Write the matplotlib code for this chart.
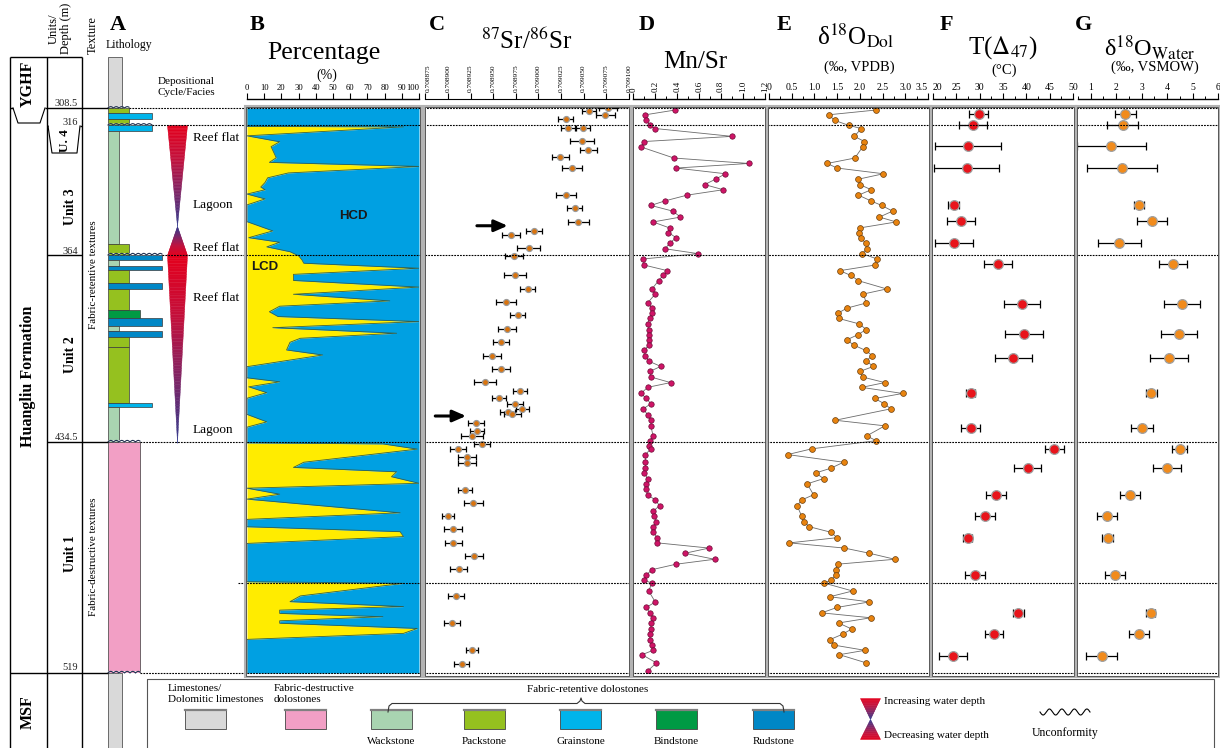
import numpy as np
import matplotlib
matplotlib.use('Agg')
import matplotlib.pyplot as plt
from matplotlib.patches import Rectangle
from matplotlib.colors import LinearSegmentedColormap

plt.rcParams['font.family'] = ['Liberation Serif', 'DejaVu Serif']
plt.rcParams['mathtext.fontset'] = 'stix'

W, H = 1220, 748

# unit boundaries (m) and the height each one sits at down the drawn column
bnd_depth = [308.5, 316.0, 364.0, 434.5, 519.0]
bnd_pos = [0.0, 17.0, 147.0, 334.0, 565.0]
sub_boundary = 486.1

# ---------------- B: LCD / HCD percentage profile
lcd_depth = [308.5, 316.5, 316.7, 320.0, 322.2, 324.0, 328.1, 329.8, 331.3, 333.7,
             335.5, 337.2, 338.9, 339.9, 341.5, 343.3, 345.5, 351.7, 355.1, 357.6,
             359.3, 361.0, 362.8, 364.3, 365.9, 367.1, 369.0, 371.3, 373.6, 376.1,
             378.8, 381.3, 383.3, 385.4, 387.2, 389.1, 391.4, 393.5, 395.4, 396.9,
             399.8, 401.7, 406.1, 410.3, 411.8, 413.7, 415.9, 418.0, 424.1, 426.9,
             428.9, 434.4, 434.8, 435.2, 437.1, 441.9, 443.8, 445.4, 447.2, 449.6,
             451.4, 453.6, 455.4, 460.4, 462.8, 465.5, 467.3, 469.1, 471.6, 485.6,
             486.2, 490.8, 492.9, 494.7, 496.0, 497.2, 498.4, 499.9, 500.8, 502.7,
             504.5, 506.7, 519.0]
lcd_pct = [0, 0, 91, 0, 19, 14, 17, 13, 100, 24,
           12, 10.5, 8, 10.5, 0, 10.5, 0, 0, 15, 1,
           19, 11.5, 25, 30, 32, 33, 100, 27, 27, 100,
           27, 83, 19, 13, 18, 100, 15, 87, 31, 25,
           23, 44, 0, 0, 19, 1, 11.5, 0, 0, 11.5,
           0, 0, 0, 79, 99, 33, 27, 87, 84, 100,
           0, 19, 0, 89, 0, 0, 89, 91, 0, 0,
           91, 31, 25, 91, 19, 19, 79, 19, 19, 99,
           91, 0, 0]

# ---------------- C: 87Sr/86Sr (2 sigma, x1e-6)
sr_depth = [308.7, 309.8, 311.5, 313.2, 317.2, 317.2, 322.0, 325.1, 327.9, 332.0,
            341.8, 346.8, 351.8, 355.1, 356.7, 361.4, 364.5, 371.5, 376.7, 381.7,
            386.7, 391.9, 396.9, 402.0, 406.9, 411.9, 415.2, 417.8, 420.1, 422.2,
            423.1, 424.1, 427.2, 430.2, 432.2, 435.1, 437.1, 440.1, 442.3, 452.1,
            456.7, 461.6, 466.4, 471.3, 476.3, 481.1, 490.9, 500.8, 510.7, 515.6]
sr_ratio = [0.709077, 0.709056, 0.709074, 0.709030, 0.709033, 0.709049, 0.709048, 0.709055, 0.709024, 0.709037,
            0.709030, 0.709040, 0.709044, 0.708995, 0.708970, 0.708989, 0.708973, 0.708974, 0.708988, 0.708964,
            0.708977, 0.708965, 0.708959, 0.708949, 0.708959, 0.708941, 0.708980, 0.708956, 0.708974, 0.708982,
            0.708966, 0.708971, 0.708931, 0.708932, 0.708927, 0.708938, 0.708911, 0.708921, 0.708921, 0.708919,
            0.708928, 0.708900, 0.708906, 0.708906, 0.708929, 0.708912, 0.708909, 0.708904, 0.708927, 0.708915]
sr_err = np.array([9.6, 7.7, 10.3, 8.5, 7.7, 7.7, 13.6, 9.2, 9.2, 11.4,
                   11.0, 8.1, 11.4, 8.5, 9.9, 12.5, 9.6, 12.2, 8.1, 11.0,
                   8.5, 9.9, 8.8, 9.9, 9.9, 12.2, 7.7, 7.7, 8.8, 7.0,
                   8.5, 9.2, 9.2, 8.1, 12.2, 8.8, 8.8, 9.6, 9.6, 8.1,
                   10.7, 7.0, 9.9, 9.2, 9.6, 9.6, 8.8, 8.8, 6.6, 8.1]) * 1e-6
# arrows: depth, tail, head
sr_arrows = [(353.2, 0.708932, 0.708966), (424.7, 0.708886, 0.708920)]

# ---------------- D, E: Mn/Sr and d18O of dolomite (same sample set)
nan = np.nan
geo_depth = [309.4, 311.5, 314.0, 316.1, 317.3, 320.2, 322.1, 324.1, 328.2, 330.2,
             331.9, 334.0, 336.0, 338.0, 339.9, 341.9, 344.0, 345.7, 347.8, 350.0,
             351.8, 354.0, 355.7, 357.6, 359.7, 361.7, 363.5, 365.5, 367.8, 369.9,
             371.7, 373.7, 376.8, 378.7, 382.1, 384.0, 385.9, 387.9, 390.0, 392.1,
             394.1, 396.0, 398.0, 400.0, 401.9, 404.0, 406.0, 407.9, 410.0, 412.1,
             413.9, 416.2, 418.1, 420.1, 422.0, 424.2, 426.3, 428.4, 432.2, 434.0,
             436.1, 437.0, 439.1, 441.9, 444.1, 445.8, 447.9, 449.8, 451.7, 453.8,
             455.7, 457.8, 459.8, 461.7, 463.6, 465.5, 467.5, 469.5, 471.4, 473.3,
             475.2, 477.4, 479.2, 481.2, 483.1, 485.1, 486.1, 489.0, 491.1, 493.0,
             495.0, 497.0, 498.8, 500.7, 502.9, 504.8, 506.8, 508.8, 510.7, 512.3,
             515.3, 518.3]
mn_sr = [0.38, 0.11, 0.12, 0.15, 0.20, 0.90, 0.10, 0.07, 0.37, 1.05,
         0.39, 0.84, 0.75, 0.65, 0.82, 0.49, 0.29, 0.16, 0.36, 0.43,
         0.18, 0.33, 0.32, 0.39, 0.33, 0.29, 0.59, 0.09, 0.10, 0.31,
         0.27, 0.23, 0.17, 0.20, 0.13, 0.17, 0.17, 0.15, 0.13, 0.14,
         0.14, 0.14, 0.14, 0.10, 0.11, 0.14, 0.25, 0.15, 0.16, 0.34,
         0.13, 0.07, 0.12, 0.16, 0.09, 0.13, 0.16, 0.16, 0.18, 0.15,
         0.14, 0.16, 0.11, 0.11, 0.11, 0.10, 0.13, 0.12, 0.12, 0.13,
         0.20, 0.24, 0.18, 0.19, 0.21, 0.18, 0.18, 0.22, 0.22, 0.69,
         0.47, 0.74, 0.39, 0.17, 0.12, 0.10, 0.17, 0.14, nan, 0.20,
         0.12, 0.15, 0.18, 0.16, 0.16, 0.15, 0.15, 0.17, 0.18, 0.08,
         0.21, 0.13]
d18o_dol = [2.35, 1.31, 1.45, 1.75, 2.03, 1.88, 2.10, 2.06, 1.89, 1.28,
            1.50, 2.52, 1.97, 2.00, 2.25, 1.97, 2.24, 2.48, 2.72, 2.43,
            2.80, 2.00, 1.99, 2.02, 2.13, 2.15, 2.05, 2.38, 2.33, 1.56,
            1.80, 1.97, 2.59, 2.08, 2.14, 1.72, 1.52, 1.53, 1.99, 2.14,
            1.95, 1.71, 1.87, 2.13, 2.27, 2.14, 2.30, 2.00, 2.06, 2.55,
            2.04, 2.94, 2.33, 2.54, 2.68, nan, 1.46, 2.55, 2.15, 2.36,
            nan, 0.94, 0.41, 1.64, 1.36, 1.03, 1.20, 0.84, nan, 0.98,
            0.72, 0.62, nan, 0.72, 0.76, 0.89, 1.36, 1.50, 0.45, 1.66,
            2.21, 2.77, 1.51, 1.47, 1.47, 1.36, 1.21, 1.84, 1.34, 2.21,
            1.50, 1.16, 2.24, 1.53, 1.82, 1.62, 1.34, 1.43, 2.11, 1.55,
            2.14, nan]

# ---------------- F, G: clumped isotope T and d18O of parent water
cl_depth = [311.2, 315.9, 323.9, 331.8, 345.6, 351.5, 359.4, 367.4, 382.6, 393.7, 402.9,
            416.2, 429.1, 437.0, 444.1, 454.0, 461.7, 469.5, 483.2, 497.0, 504.9, 512.6]
t47 = [29.8, 28.5, 27.5, 27.2, 24.4, 26.0, 24.5, 33.9, 39.1, 39.5, 37.2,
       28.1, 28.1, 46.0, 40.3, 33.5, 31.2, 27.4, 29.0, 38.3, 33.1, 24.3]
t47_err = [2.0, 3.0, 7.0, 7.0, 1.1, 3.0, 4.0, 3.0, 3.9, 4.0, 4.0,
           1.0, 2.0, 2.1, 2.9, 2.1, 2.1, 1.0, 2.1, 1.1, 2.0, 3.0]
d18o_w = [2.36, 2.25, 1.81, 2.22, 2.90, 3.40, 2.12, 4.24, 4.58, 4.48, 4.07,
          3.38, 3.01, 4.49, 3.99, 2.54, 1.64, 1.66, 1.96, 3.35, 2.90, 1.43]
d18o_w_err = [0.40, 0.60, 1.35, 1.38, 0.20, 0.60, 0.85, 0.56, 0.71, 0.71, 0.75,
              0.21, 0.42, 0.31, 0.54, 0.38, 0.40, 0.22, 0.40, 0.18, 0.38, 0.62]

# ---------------- lithology log
lith_top = [308.5, 310.7, 313.4, 316.0, 318.4, 359.9, 364.0, 365.9, 368.0, 369.8, 374.7,
            377.0, 384.7, 387.9, 390.8, 392.8, 394.9, 398.7, 419.8, 421.3, 434.5]
lith_base = [310.7, 313.4, 316.0, 318.4, 359.9, 364.0, 365.9, 368.0, 369.8, 374.7, 377.0,
             384.7, 387.9, 390.8, 392.8, 394.9, 398.7, 419.8, 421.3, 434.5, 519.0]
lith_kind = ['pack', 'grain', 'pack', 'grain', 'wack', 'pack', 'rud', 'wack', 'rud', 'pack', 'rud',
             'pack', 'bind', 'rud', 'wack', 'rud', 'pack', 'pack', 'grain', 'wack', 'fd']
unconf_depth = [308.5, 316.0, 364.0, 434.5, 519.0]
unconf_kind = ['pack', 'grain', 'rud', 'fd', 'fd']

# depositional cycles: (base depth, apex depth)
cycles = [(316.0, 353.3), (364.0, 353.3), (364.0, 434.8)]
facies = ['Reef flat', 'Lagoon', 'Reef flat', 'Reef flat', 'Lagoon']
facies_depth = [320.8, 345.5, 361.4, 380.2, 430.0]

# colour and drawn width per lithology
lith_style = {
    'lime': ('#d9d9d9', 14), 'fd': ('#f29fc5', 32), 'wack': ('#a9d4b1', 10.5),
    'pack': ('#95c11f', 21), 'grain': ('#00b4eb', 44), 'bind': ('#009a44', 32),
    'rud': ('#0087c6', 54),
}
cyc_cmap = LinearSegmentedColormap.from_list('cyc', ['#e4001c', '#c2103c', '#7d2566', '#30398c'])


def _pw(v, xs, ys):
    v = np.asarray(v, dtype=float)
    out = np.interp(v, xs, ys)
    lo = (ys[1] - ys[0]) / (xs[1] - xs[0])
    hi = (ys[-1] - ys[-2]) / (xs[-1] - xs[-2])
    out = np.where(v < xs[0], ys[0] + (v - xs[0]) * lo, out)
    out = np.where(v > xs[-1], ys[-1] + (v - xs[-1]) * hi, out)
    return out


def depth_to_pos(d):
    return _pw(d, bnd_depth, bnd_pos)


def pos_to_depth(p):
    return _pw(p, bnd_pos, bnd_depth)


fig = plt.figure(figsize=(12.2, 7.48), dpi=100)

Y0, Y1 = 108, 673


def depth_axes(x0, x1, zorder=1):
    ax = fig.add_axes([x0 / W, 1 - Y1 / H, (x1 - x0) / W, (Y1 - Y0) / H], zorder=zorder)
    ax.set_yscale('function', functions=(depth_to_pos, pos_to_depth))
    ax.set_ylim(519.0, 308.5)
    ax.patch.set_visible(False)
    ax.yaxis.set_major_locator(plt.NullLocator())
    ax.yaxis.set_minor_locator(plt.NullLocator())
    return ax


def panel(x0, x1, lim, step, minor=None, fmt=None, rot=0, size=7):
    ax = depth_axes(x0, x1)
    ax.set_xlim(lim)
    for s in ('left', 'right', 'bottom'):
        ax.spines[s].set_visible(False)
    ax.spines['top'].set_position(('outward', 6.3))
    ax.spines['top'].set_linewidth(1.0)
    ax.xaxis.set_ticks_position('top')
    ticks = np.arange(lim[0], lim[1] + step / 2, step) if step else None
    if ticks is not None:
        ax.set_xticks(ticks)
        if fmt:
            ax.set_xticklabels([fmt(t) for t in ticks])
    if minor:
        ax.xaxis.set_minor_locator(matplotlib.ticker.MultipleLocator(minor))
    ax.tick_params(axis='x', which='major', direction='out', length=4, width=0.8,
                   pad=1.2, labelsize=size, labelrotation=rot)
    ax.tick_params(axis='x', which='minor', direction='out', length=2.2, width=0.7)
    return ax


def nudge_end_labels(ax, first=None, last=None):
    labels = ax.get_xticklabels()
    if first:
        labels[0].set_horizontalalignment(first)
    if last:
        labels[-1].set_horizontalalignment(last)


# ---------------- B
ax_b = panel(247, 419, (0, 100), 10, size=6.2)
nudge_end_labels(ax_b, last='right')
ax_b.fill_betweenx(lcd_depth, 0, lcd_pct, color='#ffec00', lw=0)
ax_b.fill_betweenx(lcd_depth, lcd_pct, 100, color='#00a0e2', lw=0)
ax_b.plot(lcd_pct, lcd_depth, color='#35604a', lw=0.6)
ax_b.text(62, 349.6, 'HCD', family='Liberation Sans', weight='bold', fontsize=9.5,
          ha='center', va='center', color='#1a1a1a')
ax_b.text(10.5, 368.5, 'LCD', family='Liberation Sans', weight='bold', fontsize=9.5,
          ha='center', va='center', color='#1a1a1a')

# ---------------- C
ax_c = depth_axes(425.3, 629)
ax_c.set_xlim(0.708875, 0.709100)
for s in ('left', 'right', 'bottom'):
    ax_c.spines[s].set_visible(False)
ax_c.spines['top'].set_position(('outward', 6.3))
ax_c.xaxis.set_ticks_position('top')
sr_ticks = np.linspace(0.708875, 0.709100, 10)
ax_c.set_xticks(sr_ticks)
ax_c.set_xticklabels(['%.6f' % t for t in sr_ticks])
ax_c.tick_params(axis='x', direction='out', length=4, width=0.8, pad=1.2,
                 labelsize=5.3, labelrotation=90)
nudge_end_labels(ax_c, first='left')
ax_c.errorbar(sr_ratio, sr_depth, xerr=sr_err, fmt='none', ecolor='k',
              elinewidth=0.9, capsize=2.4, capthick=0.9)
ax_c.plot(sr_ratio, sr_depth, 'o', ms=4.3, mfc='#d9730e', mec='#9a9a9a', mew=0.9)
for d, tail, head in sr_arrows:
    ax_c.annotate('', xy=(head, d), xytext=(tail, d),
                  arrowprops=dict(arrowstyle='-|>,head_length=0.8,head_width=0.35',
                                  color='k', lw=2.2, shrinkA=0, shrinkB=0))

# ---------------- D
ax_dd = panel(633.3, 765, (0, 1.2), 0.2, minor=0.1,
              fmt=lambda t: '0' if t == 0 else '%.1f' % t, rot=90, size=6.5)
m = ~np.isnan(mn_sr)
ax_dd.plot(np.array(mn_sr)[m], np.array(geo_depth)[m], '-', color='#6b6b6b', lw=0.6)
ax_dd.plot(np.array(mn_sr)[m], np.array(geo_depth)[m], 'o', ms=3.9, mfc='#cf1467',
           mec='#6d0a35', mew=0.5)

# ---------------- E
ax_e = panel(769, 928, (0, 3.5), 0.5, minor=0.25,
             fmt=lambda t: '0' if t == 0 else '%.1f' % t, size=7)
nudge_end_labels(ax_e, last='right')
m = ~np.isnan(d18o_dol)
ax_e.plot(np.array(d18o_dol)[m], np.array(geo_depth)[m], '-', color='#6b6b6b', lw=0.6)
ax_e.plot(np.array(d18o_dol)[m], np.array(geo_depth)[m], 'o', ms=4.2, mfc='#e8830f',
          mec='#6a4010', mew=0.5)

# ---------------- F
ax_f = panel(933, 1073, (20, 50), 5, minor=2.5, fmt=lambda t: '%d' % t, size=7)
nudge_end_labels(ax_f, first='left')
ax_f.errorbar(t47, cl_depth, xerr=t47_err, fmt='none', ecolor='k',
              elinewidth=0.9, capsize=2.6, capthick=0.9)
ax_f.plot(t47, cl_depth, 'o', ms=7, mfc='#e8141b', mec='#a0a0a0', mew=0.9)

# ---------------- G
ax_g = panel(1078, 1218, (0.5, 6), None, size=7)
ax_g.set_xticks([1, 2, 3, 4, 5, 6])
ax_g.xaxis.set_minor_locator(matplotlib.ticker.MultipleLocator(0.5))
ax_g.errorbar(d18o_w, cl_depth, xerr=d18o_w_err, fmt='none', ecolor='k',
              elinewidth=0.9, capsize=2.6, capthick=0.9)
ax_g.plot(d18o_w, cl_depth, 'o', ms=7, mfc='#f18b1c', mec='#a0a0a0', mew=0.9)

# ---------------- full-width depth layer: lithology, cycles, boundaries
ax_d = depth_axes(0, W, zorder=4)
ax_d.set_xlim(0, W)
ax_d.axis('off')

# limestone above and below the formation
lime_c, lime_w = lith_style['lime']
for top, base in [(286.0, 308.5), (519.0, 548.0)]:
    for p in ax_d.barh(top, lime_w, height=base - top, left=108, align='edge',
                       color=lime_c, edgecolor='#555555', linewidth=0.6):
        p.set_clip_on(False)

ax_d.barh(lith_top, [lith_style[k][1] for k in lith_kind],
          height=np.subtract(lith_base, lith_top), left=108, align='edge',
          color=[lith_style[k][0] for k in lith_kind], edgecolor='#3a3a3a', linewidth=0.5)

for d, k in zip(unconf_depth, unconf_kind):
    xs = np.linspace(108, 108 + lith_style[k][1], 200)
    ys = d - 0.6 * np.abs(np.sin(np.pi * (xs - 108) / 5.5))
    ax_d.fill_between(xs, d - 0.8, ys, color='white', lw=0, clip_on=False)
    ax_d.plot(xs, ys, color='#1f2f4f', lw=0.8, clip_on=False)

for base, apex in cycles:
    n = 70
    t = np.linspace(0, 1, n + 1)
    dd = base + (apex - base) * t
    hw = 10 * (1 - t)
    for i in range(n):
        c = cyc_cmap((t[i] + t[i + 1]) / 2)
        ax_d.fill_betweenx([dd[i], dd[i + 1]], [177 - hw[i], 177 - hw[i + 1]],
                           [177 + hw[i], 177 + hw[i + 1]], color=c, lw=0.3)

for name, d in zip(facies, facies_depth):
    ax_d.text(193, d, name, fontsize=9.5, ha='left', va='center')

line_start = {308.5: 129, 316.0: 152, 364.0: 162, 434.5: 140, sub_boundary: 238, 519.0: 140}
for d, x0 in line_start.items():
    ax_d.plot([x0, 1218], [d, d], color='k', lw=0.8, ls=(0, (1.6, 1.0)), clip_on=False)

# ---------------- page layer: column frame, headers, panel frames, legend
ax_p = fig.add_axes([0, 0, 1, 1], zorder=5)
ax_p.set_xlim(0, W)
ax_p.set_ylim(H, 0)
ax_p.axis('off')
ax_p.patch.set_visible(False)

k = dict(color='k', lw=1.0, solid_capstyle='butt')
for x in (10, 47, 82):
    ax_p.plot([x, x], [57, H], **k)
ax_p.plot([10, 82], [57, 57], **k)
ax_p.plot([10, 13], [108, 108], **k)
ax_p.plot([45, 108], [108, 108], **k)
ax_p.plot([13, 18, 40, 45], [108, 123, 123, 108], color='k', lw=0.8)
ax_p.plot([47, 48], [126, 126], **k)
ax_p.plot([80, 82], [126, 126], **k)
ax_p.plot([48, 52, 77, 80], [126, 153, 153, 126], color='k', lw=0.8)
ax_p.plot([47, 82], [255, 255], **k)
ax_p.plot([47, 108], [442, 442], **k)
ax_p.plot([10, 108], [673, 673], **k)

bold = dict(weight='bold', rotation=90, ha='center', va='center')
ax_p.text(28, 84, 'YGHF', fontsize=11.5, **bold)
ax_p.text(28, 376, 'Huangliu Formation', fontsize=11.5, **bold)
ax_p.text(28, 712, 'MSF', fontsize=11.5, **bold)
ax_p.text(65, 141, 'U. 4', fontsize=9.5, **bold)
ax_p.text(70, 207, 'Unit 3', fontsize=10, **bold)
ax_p.text(70, 355, 'Unit 2', fontsize=10, **bold)
ax_p.text(70, 554, 'Unit 1', fontsize=10, **bold)
for lab, y in [('308.5', 103.5), ('316', 122), ('364', 251.5), ('434.5', 437), ('519', 668)]:
    ax_p.text(78, y, lab, fontsize=7.5, ha='right', va='center', color='#222222')
ax_p.text(93, 275, 'Fabric-retentive textures', fontsize=8, rotation=90, ha='center', va='center')
ax_p.text(93, 557, 'Fabric-destructive textures', fontsize=8, rotation=90, ha='center', va='center')

ax_p.text(60, 54, 'Units/\nDepth (m)', fontsize=9, rotation=90, ha='center', va='bottom',
          linespacing=1.0)
ax_p.text(93, 54, 'Texture', fontsize=9, rotation=90, ha='center', va='bottom')

hdr = dict(weight='bold', fontsize=16, ha='center', va='center')
for lab, x in [('A', 118), ('B', 257), ('C', 437), ('D', 647), ('E', 784), ('F', 946), ('G', 1083)]:
    ax_p.text(x, 25, lab, **hdr)
ax_p.text(129, 45, 'Lithology', fontsize=8.5, ha='center', va='center')
ax_p.text(186, 87, 'Depositional\nCycle/Facies', fontsize=8, ha='center', va='center',
          linespacing=1.15)
ax_p.text(324, 53, 'Percentage', fontsize=18.5, ha='center', va='center')
ax_p.text(327, 75, '(%)', fontsize=10, ha='center', va='center')
ax_p.text(527, 41, r'$^{87}$Sr/$^{86}$Sr', fontsize=18, ha='center', va='center')
ax_p.text(695, 62, 'Mn/Sr', fontsize=18, ha='center', va='center')
ax_p.text(856, 36, r'δ$^{18}$O$_{\mathrm{Dol}}$', fontsize=18, ha='center', va='center')
ax_p.text(859, 67, '(‰, VPDB)', fontsize=10.5, ha='center', va='center')
ax_p.text(1003, 48, r'T($\Delta_{47}$)', fontsize=18, ha='center', va='center')
ax_p.text(1004, 70, '(°C)', fontsize=10.5, ha='center', va='center')
ax_p.text(1150, 48, r'δ$^{18}$O$_{\mathrm{Water}}$', fontsize=17.5, ha='center', va='center')
ax_p.text(1155, 67, '(‰, VSMOW)', fontsize=10.5, ha='center', va='center')

# panel frames
for x0, x1 in [(246, 420), (425, 629), (633, 765), (768, 929), (932, 1074), (1077, 1218)]:
    ax_p.add_patch(Rectangle((x0 - 1.5, 105.5), x1 - x0 + 3, 571.5, fc='none',
                             ec='#b3b3b3', lw=1.5))
    ax_p.add_patch(Rectangle((x0, 107), x1 - x0, 568.5, fc='none', ec='#555555', lw=0.7))

# legend
ax_p.add_patch(Rectangle((147, 679), 1067, 80, fc='none', ec='#555555', lw=0.8))
legend_items = [('lime', 185, None), ('fd', 285, None), ('wack', 371, 'Wackstone'),
                ('pack', 464, 'Packstone'), ('grain', 560, 'Grainstone'),
                ('bind', 656, 'Bindstone'), ('rud', 753, 'Rudstone')]
for kind, x, lab in legend_items:
    ax_p.add_patch(Rectangle((x, 710), 41, 19, fc=lith_style[kind][0], ec='#444444', lw=0.6))
    ax_p.plot([x, x + 41], [710, 710], color='#808080', lw=1.6)
    if lab:
        ax_p.text(x + 20.5, 741, lab, fontsize=8, ha='center', va='center')
ax_p.text(168, 684, 'Limestones/\nDolomitic limestones', fontsize=8, ha='left', va='top',
          linespacing=1.3)
ax_p.text(274, 684, 'Fabric-destructive\ndolostones', fontsize=8, ha='left', va='top',
          linespacing=1.3)
ax_p.text(588, 690, 'Fabric-retentive dolostones', fontsize=8, ha='center', va='center')
ax_p.plot([388, 389, 392, 577, 580, 581, 582, 585, 780, 783, 784],
          [712, 706, 703.5, 703.5, 701, 698, 701, 703.5, 703.5, 706, 712], color='#333333', lw=0.8)

for base, apex in [(698, 719), (739, 719)]:
    n = 30
    t = np.linspace(0, 1, n + 1)
    yy = base + (apex - base) * t
    hw = 10 * (1 - t)
    for i in range(n):
        c = cyc_cmap((t[i] + t[i + 1]) / 2)
        ax_p.fill_betweenx([yy[i], yy[i + 1]], [870 - hw[i], 870 - hw[i + 1]],
                           [870 + hw[i], 870 + hw[i + 1]], color=c, lw=0.3)
ax_p.text(884, 702, 'Increasing water depth', fontsize=8, ha='left', va='center')
ax_p.text(884, 735, 'Decreasing water depth', fontsize=8, ha='left', va='center')
xs = np.linspace(1040, 1090, 200)
ax_p.plot(xs, 712 + 3 * np.sin(2 * np.pi * (xs - 1040) / 12.5), color='k', lw=0.8)
ax_p.text(1065, 733, 'Unconformity', fontsize=8.5, ha='center', va='center')

fig.savefig('out.png', dpi=100)
